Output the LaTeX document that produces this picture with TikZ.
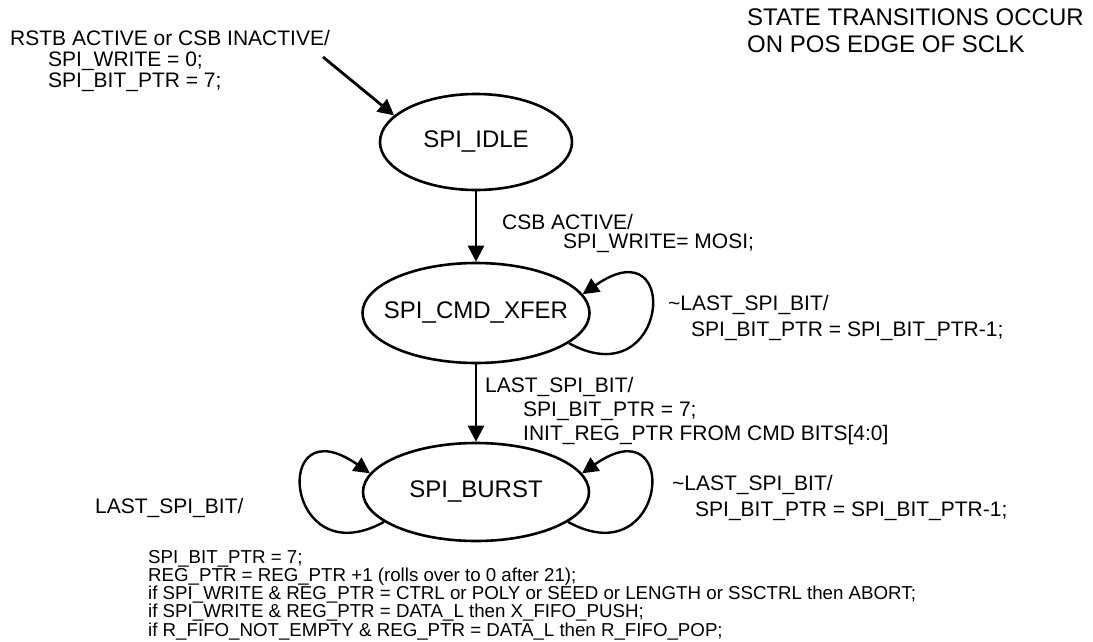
\documentclass[tikz,border=0pt]{standalone}
\usepackage{fontspec}
\setmainfont{Liberation Sans}
\usetikzlibrary{shapes.geometric, arrows.meta}
\tikzset{>={Triangle[length = 16pt, width = 16pt]}}

\begin{document}
\begin{tikzpicture}[
    x = 1pt, y = -1pt,
    st/.style = {draw, ellipse, line width = 2.6pt, inner sep = 0pt, font = \fontsize{24}{28}\selectfont},
    tr/.style = {->, line width = 2.8pt},
    lp/.style = {->, line width = 2.4pt},
    lbl/.style = {anchor = north west, inner sep = 0pt, align = left, font = \fontsize{21}{#1}\selectfont}
]

\useasboundingbox (0,0) rectangle (1093,642);

\node[st, minimum width = 192pt, minimum height = 96pt] (idle) at (476,142) {\makebox[0pt]{SPI\_IDLE}};
\node[st, minimum width = 227pt, minimum height = 100pt] (cmd) at (476,313) {\makebox[0pt]{SPI\_CMD\_XFER}};
\node[st, minimum width = 226pt, minimum height = 98pt] (burst) at (476,492) {\makebox[0pt]{SPI\_BURST}};

\coordinate (rst) at (323,57);
\draw[tr] (rst) -- (idle.162);
\draw[tr] (idle.south) -- (cmd.north);
\draw[tr] (cmd.south) -- (burst.north);
\draw[lp] (cmd.-18) .. controls +(100,55) and +(100,-70) .. (cmd.10);
\draw[lp] (burst.-18) .. controls +(100,55) and +(100,-70) .. (burst.10);
\draw[lp] (burst.198) .. controls +(-100,55) and +(-100,-70) .. (burst.170);

\node[lbl = 21] (rstlbl) at (10,30) {RSTB ACTIVE or CSB INACTIVE/\\\hspace*{38pt}SPI\_WRITE = 0;\\\hspace*{38pt}SPI\_BIT\_PTR = 7;};
\node[anchor = north west, inner sep = 0pt, align = left, font = \fontsize{24}{27}\selectfont] (note) at (747,9) {STATE TRANSITIONS OCCUR\\ON POS EDGE OF SCLK};
\node[lbl = 19.5] (csblbl) at (502,214) {CSB ACTIVE/\\\hspace*{61pt}SPI\_WRITE= MOSI;};
\node[lbl = 26] (cmdlbl) at (668,295) {\textasciitilde LAST\_SPI\_BIT/\\\hspace*{23pt}SPI\_BIT\_PTR = SPI\_BIT\_PTR-1;};
\node[lbl = 24] (lastlbl) at (485,377) {LAST\_SPI\_BIT/\\\hspace*{38pt}SPI\_BIT\_PTR = 7;\\\hspace*{38pt}INIT\_REG\_PTR FROM CMD BITS[4:0]};
\node[lbl = 26] (burstlbl) at (672,475) {\textasciitilde LAST\_SPI\_BIT/\\\hspace*{23pt}SPI\_BIT\_PTR = SPI\_BIT\_PTR-1;};
\node[lbl = 21] (leftlbl) at (95,498) {LAST\_SPI\_BIT/};
\node[anchor = north west, inner sep = 0pt, align = left, font = \fontsize{18.7}{18.2}\selectfont] (actlbl) at (148,550) {SPI\_BIT\_PTR = 7;\\REG\_PTR = REG\_PTR +1 (rolls over to 0 after 21);\\if SPI\_WRITE \& REG\_PTR = CTRL or POLY or SEED or LENGTH or SSCTRL then ABORT;\\if SPI\_WRITE \& REG\_PTR = DATA\_L then X\_FIFO\_PUSH;\\if R\_FIFO\_NOT\_EMPTY \& REG\_PTR = DATA\_L then R\_FIFO\_POP;};
\end{tikzpicture}
\end{document}
